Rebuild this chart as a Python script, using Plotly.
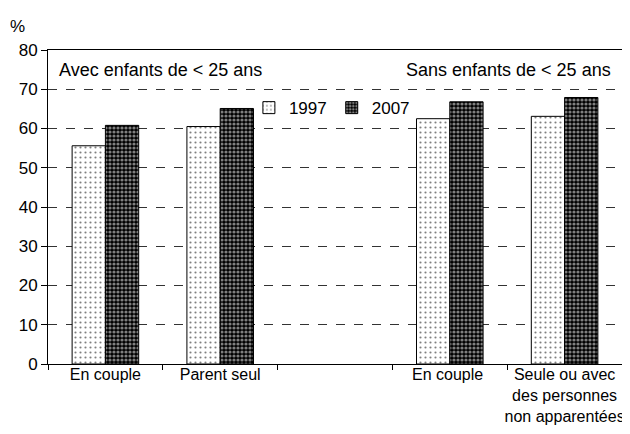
import plotly.graph_objects as go

# categories (trailing spaces keep the two "En couple" apart, blank slot in the middle)
categories = ["En couple", "Parent seul", " ", "En couple ",
              "Seule ou avec<br>des personnes<br>non apparentées"]
vals_1997 = [55.6, 60.5, None, 62.5, 63.1]
vals_2007 = [60.8, 65.1, None, 66.8, 67.9]

font_name = "Liberation Sans"

fig = go.Figure()
fig.add_trace(go.Bar(
    x=categories, y=vals_1997, name="1997",
    marker=dict(color="white", line=dict(color="black", width=1),
                pattern=dict(shape=".", fgcolor="black", bgcolor="white", size=5, solidity=0.15)),
))
fig.add_trace(go.Bar(
    x=categories, y=vals_2007, name="2007",
    marker=dict(color="black", line=dict(color="black", width=1),
                pattern=dict(shape=".", fgcolor="white", bgcolor="black", size=4, solidity=0.5)),
))

# the page body keeps its default 8px margin, so the figure is shifted by that much
fig.update_layout(
    width=622, height=418,
    margin=dict(l=40, r=8, t=42, b=62),
    paper_bgcolor="white", plot_bgcolor="white",
    font=dict(family=font_name, size=17, color="black"),
    barmode="group", bargap=0.42, bargroupgap=0,
    legend=dict(orientation="h", x=0.35, y=0.815, xanchor="left", yanchor="middle",
                bgcolor="rgba(0,0,0,0)", font=dict(size=17), itemwidth=30,
                traceorder="normal"),
    showlegend=True,
)
fig.update_xaxes(
    type="category", tickson="boundaries", ticks="outside", ticklen=5,
    tickcolor="black", showline=True, linecolor="black", linewidth=1,
    mirror=True, showgrid=False, tickfont=dict(size=16), tickangle=0,
    ticklabelstandoff=-4, automargin=False,
)
fig.update_yaxes(
    range=[0, 80], dtick=10, ticks="outside", ticklen=6, tickcolor="black",
    showline=True, linecolor="black", linewidth=1, mirror=True,
    showgrid=True, gridcolor="#333333", griddash="dash", gridwidth=1,
    zeroline=False, tickfont=dict(size=17), automargin=False,
)

fig.add_annotation(text="Avec enfants de &lt; 25 ans", xref="paper", yref="paper",
                   x=0.015, y=0.935, xanchor="left", yanchor="middle",
                   showarrow=False, font=dict(size=18))
fig.add_annotation(text="Sans enfants de &lt; 25 ans", xref="paper", yref="paper",
                   x=0.985, y=0.935, xanchor="right", yanchor="middle",
                   showarrow=False, font=dict(size=18))
fig.add_annotation(text="%", xref="paper", yref="paper",
                   x=-0.07, y=1.075, xanchor="left", yanchor="middle",
                   showarrow=False, font=dict(size=17))

fig.write_html("out.html")
